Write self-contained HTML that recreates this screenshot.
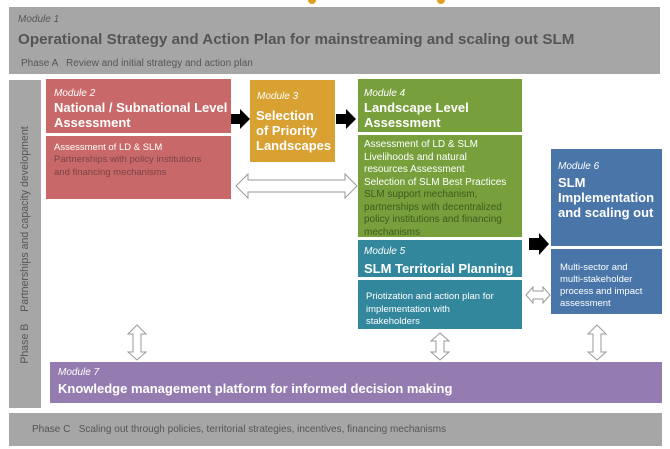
<!DOCTYPE html>
<html><head><meta charset="utf-8"><style>
*{margin:0;padding:0;box-sizing:border-box}
body{width:670px;height:449px;background:#fff;position:relative;overflow:hidden;font-family:"Liberation Sans",sans-serif}
.b{position:absolute}
.m{font-style:italic;font-size:10px;color:#fff;position:absolute}
.t{font-weight:bold;color:#fff;position:absolute;line-height:1.15}
.s{color:#fff;font-size:9.5px;line-height:12.5px;position:absolute}
.g{color:#555}
</style></head><body>
<div class="b" style="left:9px;top:7px;width:651px;height:67px;background:#a6a6a6"></div>
<div class="m" style="left:18px;top:14px;color:#555">Module 1</div>
<div class="t" style="left:18px;top:31px;font-size:15.2px;color:#555">Operational Strategy and Action Plan for mainstreaming and scaling out SLM</div>
<div class="b g" style="left:21px;top:58px;font-size:10px">Phase A &nbsp; Review and initial strategy and action plan</div>

<div class="b" style="left:9px;top:80px;width:32px;height:328px;background:#a6a6a6"></div>
<div class="b g" style="left:25px;top:245px;width:280px;margin-left:-140px;transform:rotate(-90deg);font-size:10.6px;white-space:nowrap;text-align:center;line-height:12px;margin-top:-6px">Phase B &nbsp;&nbsp; Partnerships and capacity development</div>

<div class="b" style="left:46px;top:79px;width:185px;height:54px;background:#c96868"></div>
<div class="m" style="left:54px;top:88px">Module 2</div>
<div class="t" style="left:54px;top:101px;font-size:13px">National / Subnational Level<br>Assessment</div>
<div class="b" style="left:46px;top:136px;width:185px;height:63px;background:#c96868"></div>
<div class="s" style="left:54px;top:142px">Assessment of LD &amp; SLM</div>
<div class="s g" style="left:54px;top:154px;color:#7a4444">Partnerships with policy institutions<br>and financing mechanisms</div>

<div class="b" style="left:250px;top:80px;width:85px;height:82px;background:#d9a032"></div>
<div class="m" style="left:257px;top:91px">Module 3</div>
<div class="t" style="left:256px;top:109px;font-size:13px">Selection<br>of Priority<br>Landscapes</div>

<div class="b" style="left:358px;top:79px;width:164px;height:53px;background:#77a03c"></div>
<div class="m" style="left:364px;top:88px">Module 4</div>
<div class="t" style="left:364px;top:101px;font-size:13px">Landscape Level<br>Assessment</div>
<div class="b" style="left:358px;top:135px;width:164px;height:102px;background:#77a03c"></div>
<div class="s" style="left:364px;top:139px;font-size:10px">Assessment of LD &amp; SLM<br>Livelihoods and natural<br>resources Assessment<br>Selection of SLM Best Practices</div>
<div class="s" style="left:364px;top:189px;color:#3d5a20;font-size:10px">SLM support mechanism,<br>partnerships with decentralized<br>policy institutions and financing<br>mechanisms</div>

<div class="b" style="left:358px;top:240px;width:164px;height:37px;background:#32879c"></div>
<div class="m" style="left:364px;top:246px">Module 5</div>
<div class="t" style="left:364px;top:262px;font-size:13px">SLM Territorial Planning</div>
<div class="b" style="left:358px;top:280px;width:164px;height:49px;background:#32879c"></div>
<div class="s" style="left:366px;top:291px;line-height:12.5px">Priotization and action plan for<br>implementation with<br>stakeholders</div>

<div class="b" style="left:551px;top:149px;width:111px;height:97px;background:#4a75a9"></div>
<div class="m" style="left:558px;top:161px">Module 6</div>
<div class="t" style="left:558px;top:176px;font-size:13px">SLM<br>Implementation<br>and scaling out</div>
<div class="b" style="left:551px;top:249px;width:111px;height:65px;background:#4a75a9"></div>
<div class="s" style="left:560px;top:262px;line-height:12px">Multi-sector and<br>multi-stakeholder<br>process and impact<br>assessment</div>

<div class="b" style="left:50px;top:362px;width:612px;height:41px;background:#957cb0"></div>
<div class="m" style="left:58px;top:367px">Module 7</div>
<div class="t" style="left:58px;top:382px;font-size:13px">Knowledge management platform for informed decision making</div>

<div class="b" style="left:9px;top:413px;width:653px;height:33px;background:#a6a6a6"></div>
<div class="b g" style="left:32px;top:424px;font-size:10px">Phase C &nbsp; Scaling out through policies, territorial strategies, incentives, financing mechanisms</div>

<svg class="b" style="left:0;top:0" width="670" height="449">
<g fill="#000">
<polygon points="231,114 240,114 240,109 250,119 240,129 240,124 231,124"/>
<polygon points="336,114 346,114 346,109 356,119 346,129 346,124 336,124"/>
<polygon points="529,238 539,238 539,233 549,244 539,255 539,250 529,250"/>
</g>
<g fill="#fff" stroke="#999" stroke-width="1">
<polygon points="236,186 248,174 248,180 345,180 345,174 357,186 345,198 345,192 248,192 248,198"/>
<polygon points="526,295 533,287 533,291 543,291 543,287 550,295 543,303 543,299 533,299 533,303"/>
<polygon points="137,325 146,334 141,334 141,352 146,352 137,360 128,352 133,352 133,334 128,334"/>
<polygon points="440,333 449,341 444,341 444,352 449,352 440,360 431,352 436,352 436,341 431,341"/>
<polygon points="597,325 606,334 601,334 601,352 606,352 597,360 588,352 593,352 593,334 588,334"/>
</g>
<circle cx="312" cy="0" r="4" fill="#e0a020"/>
<circle cx="441" cy="0" r="4" fill="#e0a020"/>
</svg>
</body></html>
